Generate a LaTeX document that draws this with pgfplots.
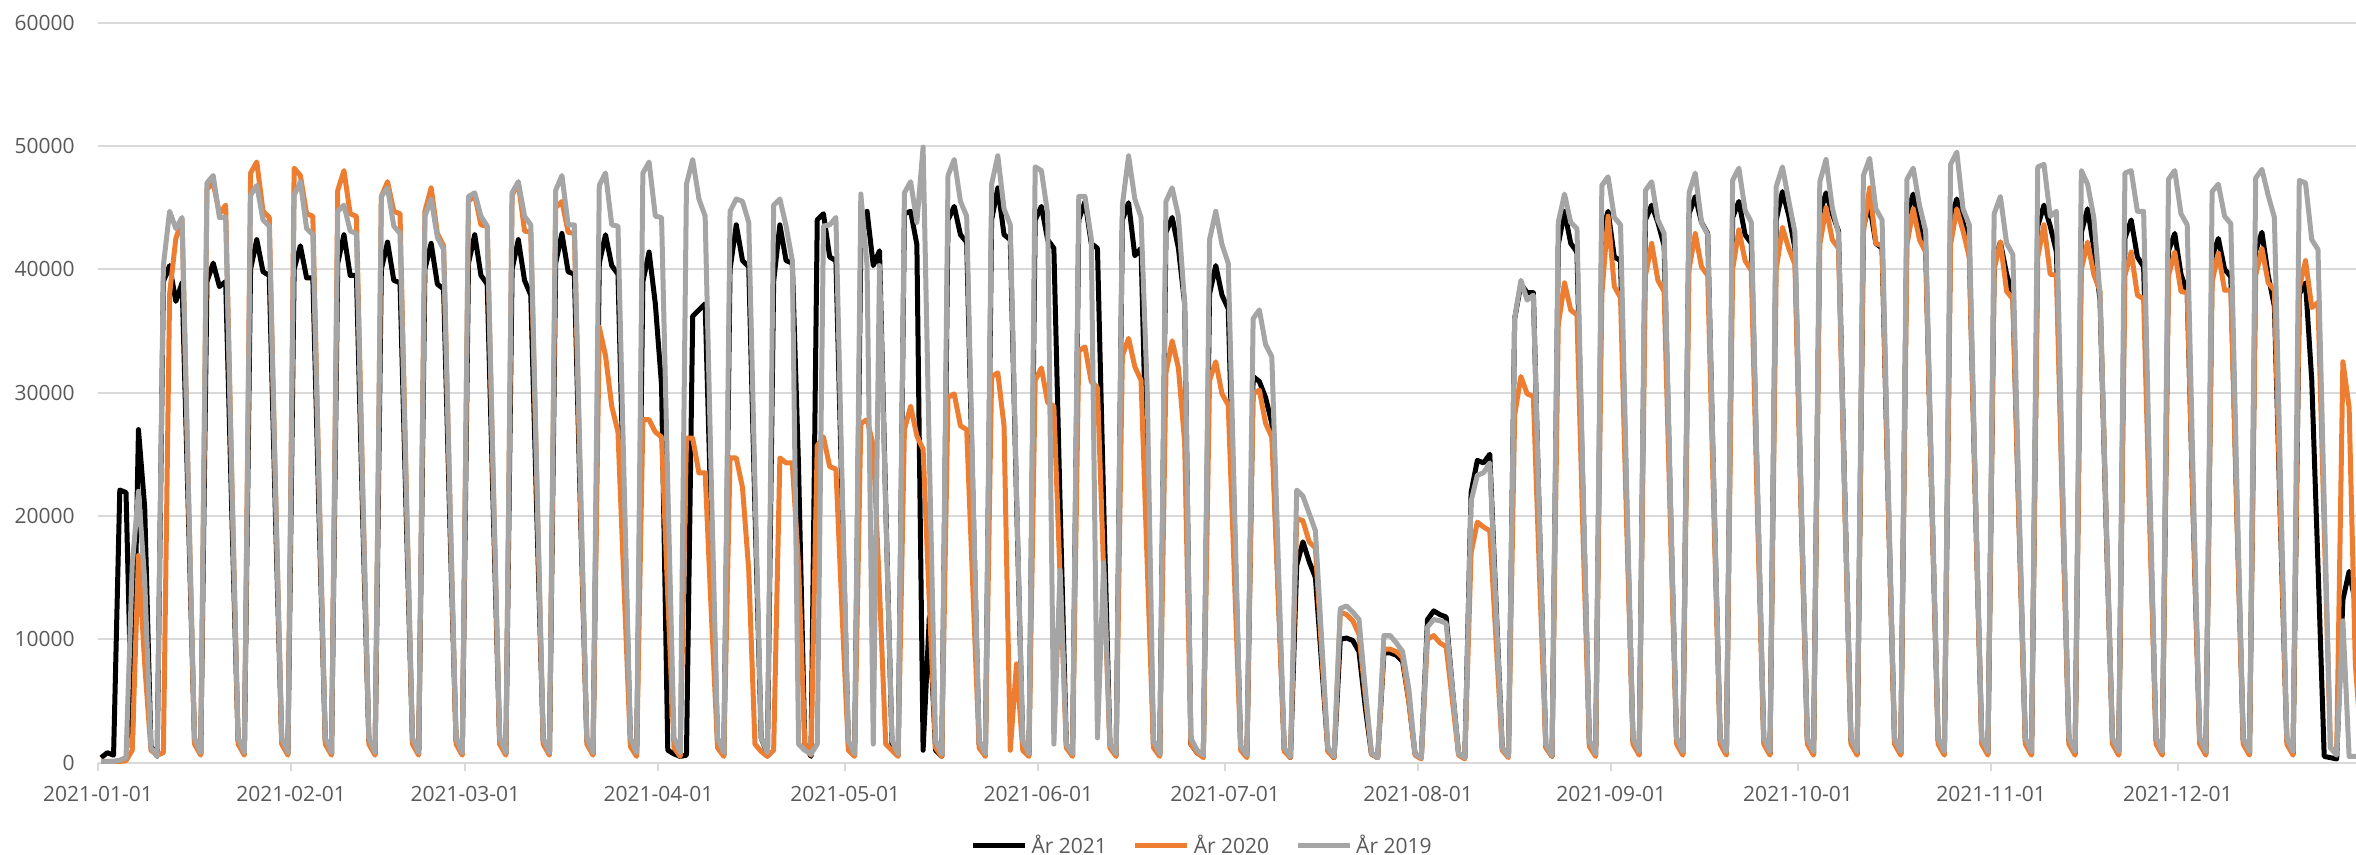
\documentclass[border=0pt]{standalone}
\usepackage{pgfplots}
\pgfplotsset{compat=1.18}
\usepackage{pgfplotstable}
\usepackage{fontspec}
\setmainfont{Open Sans}
\definecolor{cA}{HTML}{000000}
\definecolor{cB}{HTML}{ED7D31}
\definecolor{cC}{HTML}{A5A5A5}
\definecolor{gridc}{HTML}{D9D9D9}
\definecolor{txt}{HTML}{595959}

\pgfplotstableread{
x a b c
0.5 400 100 100
1.5 800 100 100
2.5 600 100 100
3.5 22100 100 200
4.5 21900 150 400
5.5 1200 1000 16000
6.5 27000 16800 22000
7.5 20700 8000 14800
8.5 1300 1000 1200
9.5 500 600 500
10.5 39000 800 40300
11.5 40300 38000 44700
12.5 37400 42500 43300
13.5 38900 44000 44200
14.5 20500 22500 22500
15.5 1800 1500 2000
16.5 700 600 800
17.5 39000 46500 47000
18.5 40500 47000 47600
19.5 38600 44500 44200
20.5 39000 45200 44200
21.5 20000 23000 22500
22.5 1800 1500 2000
23.5 700 600 800
24.5 40000 47800 46000
25.5 42400 48700 46800
26.5 39800 44700 44000
27.5 39500 44200 43500
28.5 20000 22500 22000
29.5 1800 1500 2000
30.5 700 600 800
31.5 40000 48200 46000
32.5 41900 47600 47100
33.5 39300 44500 43300
34.5 39300 44300 42800
35.5 20000 22500 22000
36.5 1800 1500 2000
37.5 700 600 800
38.5 40500 46400 44700
39.5 42800 48000 45200
40.5 39500 44500 43100
41.5 39500 44300 42900
42.5 20000 22500 22000
43.5 1800 1500 2000
44.5 700 600 800
45.5 40000 45900 45900
46.5 42200 47100 46600
47.5 39100 44700 43500
48.5 38900 44500 42900
49.5 20000 22500 22000
50.5 1800 1500 2000
51.5 700 600 800
52.5 40000 44700 44300
53.5 42100 46600 45700
54.5 38800 42900 42600
55.5 38400 41900 41600
56.5 19500 21500 21500
57.5 1800 1500 2000
58.5 700 600 800
59.5 40500 45500 45900
60.5 42800 46000 46200
61.5 39500 43600 44300
62.5 38800 43500 43500
63.5 20000 22000 22500
64.5 1800 1500 2000
65.5 700 600 800
66.5 40000 46000 46200
67.5 42400 47000 47100
68.5 39100 43100 44300
69.5 37900 43000 43600
70.5 19500 22000 22500
71.5 1800 1500 2000
72.5 700 600 800
73.5 40500 45000 46400
74.5 42900 45500 47600
75.5 39800 43000 43600
76.5 39600 42900 43600
77.5 20000 21000 22500
78.5 1800 1500 2000
79.5 700 600 800
80.5 40500 35300 46800
81.5 42800 33000 47800
82.5 40300 28900 43600
83.5 39600 26800 43500
84.5 20000 14000 22500
85.5 1800 1300 2000
86.5 700 500 800
87.5 39000 27800 47800
88.5 41400 27800 48700
89.5 37200 26800 44300
90.5 30600 26400 44200
91.5 1000 13500 22500
92.5 700 1200 2000
93.5 500 500 800
94.5 600 26300 46900
95.5 36200 26300 48900
96.5 36700 23500 45700
97.5 37200 23500 44300
98.5 19000 12000 22500
99.5 1500 1200 2000
100.5 600 500 800
101.5 40000 24700 44700
102.5 43600 24700 45700
103.5 40700 22300 45500
104.5 40200 15600 43800
105.5 20500 1500 22500
106.5 2000 900 2000
107.5 700 500 800
108.5 39000 1000 45200
109.5 43600 24700 45700
110.5 40700 24300 43500
111.5 40500 24300 40700
112.5 24000 16000 1500
113.5 1500 1500 1000
114.5 500 600 700
115.5 44000 25700 1500
116.5 44500 26400 43500
117.5 41000 24000 43600
118.5 40700 23800 44200
119.5 21000 12000 22500
120.5 1500 1000 1800
121.5 600 500 700
122.5 42000 27500 46100
123.5 44700 27800 40300
124.5 40300 25700 1500
125.5 41500 14000 40300
126.5 21000 1500 20500
127.5 1500 1000 1800
128.5 600 500 700
129.5 44500 27000 46200
130.5 44700 28900 47100
131.5 42000 26500 43800
132.5 1000 25400 49900
133.5 11800 13000 25000
134.5 1000 1200 1800
135.5 500 500 700
136.5 44000 29600 47600
137.5 45100 29900 48900
138.5 42800 27300 45500
139.5 42200 27000 44300
140.5 21500 14000 22500
141.5 1500 1200 1800
142.5 600 500 700
143.5 44000 31300 46900
144.5 46600 31600 49200
145.5 42800 27300 44900
146.5 42400 1000 43600
147.5 21500 8000 22000
148.5 1500 1000 1800
149.5 600 500 700
150.5 44000 31000 48300
151.5 45100 32000 48000
152.5 42400 29200 44500
153.5 41700 28900 1500
154.5 21000 15000 15600
155.5 1500 1200 1500
156.5 600 500 700
157.5 44000 33400 45900
158.5 45500 33700 45900
159.5 42100 30900 42500
160.5 41700 30400 2000
161.5 21000 15500 16200
162.5 1500 1200 1500
163.5 600 500 700
164.5 44000 33000 45200
165.5 45400 34400 49200
166.5 41100 32100 45700
167.5 41700 31000 44200
168.5 21500 16000 30000
169.5 1500 1200 1800
170.5 600 500 700
171.5 43000 31600 45500
172.5 44200 34200 46600
173.5 41700 32000 44300
174.5 37200 26000 37200
175.5 1500 1500 2000
176.5 800 800 1000
177.5 500 400 600
178.5 38000 31000 42400
179.5 40300 32500 44700
180.5 37900 29900 42000
181.5 36800 29000 40500
182.5 19000 15000 21000
183.5 1300 1000 1300
184.5 500 400 600
185.5 31300 29900 36000
186.5 30900 30200 36700
187.5 29600 27500 33900
188.5 27500 26400 32900
189.5 14500 14000 17000
190.5 1000 900 1200
191.5 400 400 500
192.5 16000 19800 22100
193.5 17900 19600 21600
194.5 16300 17900 20200
195.5 15000 17400 18800
196.5 8000 9000 10000
197.5 1000 900 1200
198.5 400 400 500
199.5 10000 12200 12500
200.5 10100 12000 12700
201.5 9900 11500 12200
202.5 9000 10400 11600
203.5 4500 5500 6000
204.5 700 700 800
205.5 400 400 400
206.5 8900 9200 10300
207.5 8900 9200 10300
208.5 8700 9000 9700
209.5 8200 8500 9000
210.5 5000 5000 6000
211.5 700 600 700
212.5 400 300 400
213.5 11600 10000 11000
214.5 12300 10300 11600
215.5 12000 9700 11500
216.5 11800 9400 11300
217.5 6000 5000 6000
218.5 700 600 700
219.5 400 300 400
220.5 21900 17000 21200
221.5 24500 19500 23300
222.5 24300 19100 23500
223.5 25000 18800 24300
224.5 13000 10000 12500
225.5 1200 1000 1200
226.5 500 400 500
227.5 36000 28200 36000
228.5 38800 31300 39100
229.5 38100 29900 37500
230.5 38100 29700 37900
231.5 19000 15000 19000
232.5 1300 1200 1500
233.5 500 500 600
234.5 42000 35500 43800
235.5 44700 38900 46100
236.5 42100 36700 43800
237.5 41400 36300 43300
238.5 21000 18000 22000
239.5 1500 1300 1800
240.5 600 500 700
241.5 43000 38000 46800
242.5 44700 44300 47500
243.5 41000 38600 44200
244.5 40700 37700 43600
245.5 20500 19000 22000
246.5 1800 1500 2000
247.5 700 600 900
248.5 44000 39500 46400
249.5 45200 42100 47100
250.5 43800 39100 44000
251.5 41900 38200 42900
252.5 21000 19500 22000
253.5 1800 1500 2000
254.5 700 600 900
255.5 44500 40000 46200
256.5 45900 42900 47800
257.5 43800 40200 43800
258.5 42900 39500 42800
259.5 21500 20000 22000
260.5 1800 1500 2000
261.5 700 600 900
262.5 44200 40000 47200
263.5 45500 43200 48200
264.5 42800 40700 44800
265.5 42100 39900 43800
266.5 21500 20000 22500
267.5 1800 1500 2000
268.5 700 600 900
269.5 44000 40000 46700
270.5 46300 43400 48300
271.5 44400 41700 45600
272.5 41700 40400 43000
273.5 21000 20500 22000
274.5 1800 1500 2000
275.5 700 600 900
276.5 44500 42000 47100
277.5 46200 45000 48900
278.5 44500 42400 45000
279.5 43100 41700 42900
280.5 22000 21000 22000
281.5 1800 1500 2000
282.5 700 600 900
283.5 43500 43000 47600
284.5 45200 46600 49000
285.5 42100 42100 44900
286.5 41700 41900 44000
287.5 21000 21000 22500
288.5 1800 1500 2000
289.5 700 600 900
290.5 44500 42000 47300
291.5 46100 44900 48200
292.5 43500 42400 45200
293.5 41700 41400 43100
294.5 21000 21000 22000
295.5 1800 1500 2000
296.5 700 600 900
297.5 44000 42000 48500
298.5 45700 44900 49500
299.5 43800 43100 44900
300.5 41700 41000 43600
301.5 21000 21000 22000
302.5 1800 1500 2000
303.5 700 600 900
304.5 40500 40000 44500
305.5 42200 42200 45900
306.5 39600 38200 42100
307.5 37900 37600 41200
308.5 19500 19000 21000
309.5 1800 1500 2000
310.5 700 600 900
311.5 43500 41000 48300
312.5 45200 43600 48500
313.5 43500 39600 44300
314.5 41400 39500 44700
315.5 21000 20000 22500
316.5 1800 1500 2000
317.5 700 600 900
318.5 43000 40000 48000
319.5 44900 42200 46900
320.5 41700 39600 44200
321.5 37500 38200 37900
322.5 19000 19500 19500
323.5 1800 1500 2000
324.5 700 600 900
325.5 42500 39500 47800
326.5 44000 41400 48000
327.5 41000 37900 44700
328.5 40200 37600 44700
329.5 20500 19000 22500
330.5 1800 1500 2000
331.5 700 600 900
332.5 41500 39500 47300
333.5 42900 41400 48000
334.5 39600 38200 44500
335.5 38100 38100 43600
336.5 19500 19500 22000
337.5 1800 1500 2000
338.5 700 600 900
339.5 41000 39000 46300
340.5 42500 41300 46900
341.5 40000 38300 44300
342.5 39400 38300 43700
343.5 20000 19500 22000
344.5 1800 1500 2000
345.5 700 600 900
346.5 41500 39500 47400
347.5 43000 41700 48100
348.5 39500 38900 46000
349.5 37000 38300 44200
350.5 19000 19500 22500
351.5 1800 1500 2000
352.5 700 600 900
353.5 38000 38500 47200
354.5 38900 40700 47000
355.5 31000 36900 42400
356.5 16000 37300 41600
357.5 500 19000 21000
358.5 400 1200 1200
359.5 300 800 600
360.5 13200 32500 11500
361.5 15500 28800 500
362.5 13000 8000 500
363.5 12000 1000 500
364.5 1000 500 500
}\data

\begin{document}
\begin{tikzpicture}
\useasboundingbox (-49pt,-46.2pt) rectangle (1129pt,381.3pt);
\begin{axis}[
  at={(0,0)}, anchor=south west,
  scale only axis, width=1129pt, height=370pt,
  xmin=0, xmax=362.6, ymin=0, ymax=60000,
  clip=false,
  axis line style={draw=none},
  ymajorgrids, grid style={gridc, line width=1pt},
  ytick={0,10000,20000,30000,40000,50000,60000},
  scaled y ticks=false,
  xtick={0,31,59,90,120,151,181,212,243,273,304,334},
  xticklabels={2021-01-01,2021-02-01,2021-03-01,2021-04-01,2021-05-01,2021-06-01,2021-07-01,2021-08-01,2021-09-01,2021-10-01,2021-11-01,2021-12-01},
  tick label style={font=\fontsize{10.5}{12}\selectfont, text=txt},
  /pgf/number format/assume math mode=true,
  /pgf/number format/1000 sep={},
  xtick pos=lower, ytick pos=left,
  xtick align=outside, ytick align=inside,
  major tick length=4pt,
  ytick style={draw=none},
  xtick style={draw=gridc, line width=1pt},
  yticklabel style={anchor=east, inner sep=0pt, xshift=-11.5pt},
  xticklabel style={anchor=north, inner sep=0pt, yshift=-7.5pt},
  legend style={at={(0.4894,-0.1127)}, anchor=center, draw=none, fill=none,
    font=\fontsize{10.5}{12}\selectfont, inner sep=0pt,
    /tikz/every even column/.append style={column sep=11pt}},
  legend columns=3,
  legend image code/.code={\draw[#1] (0pt,0pt) -- (26pt,0pt);},
]
\addplot[cA, line width=2.5pt, line join=round] table[x=x, y=a]{\data};
\addlegendentry{\textcolor{txt}{År 2021}}
\addplot[cB, line width=2.5pt, line join=round] table[x=x, y=b]{\data};
\addlegendentry{\textcolor{txt}{År 2020}}
\addplot[cC, line width=2.5pt, line join=round] table[x=x, y=c]{\data};
\addlegendentry{\textcolor{txt}{År 2019}}
\end{axis}
\end{tikzpicture}
\end{document}
